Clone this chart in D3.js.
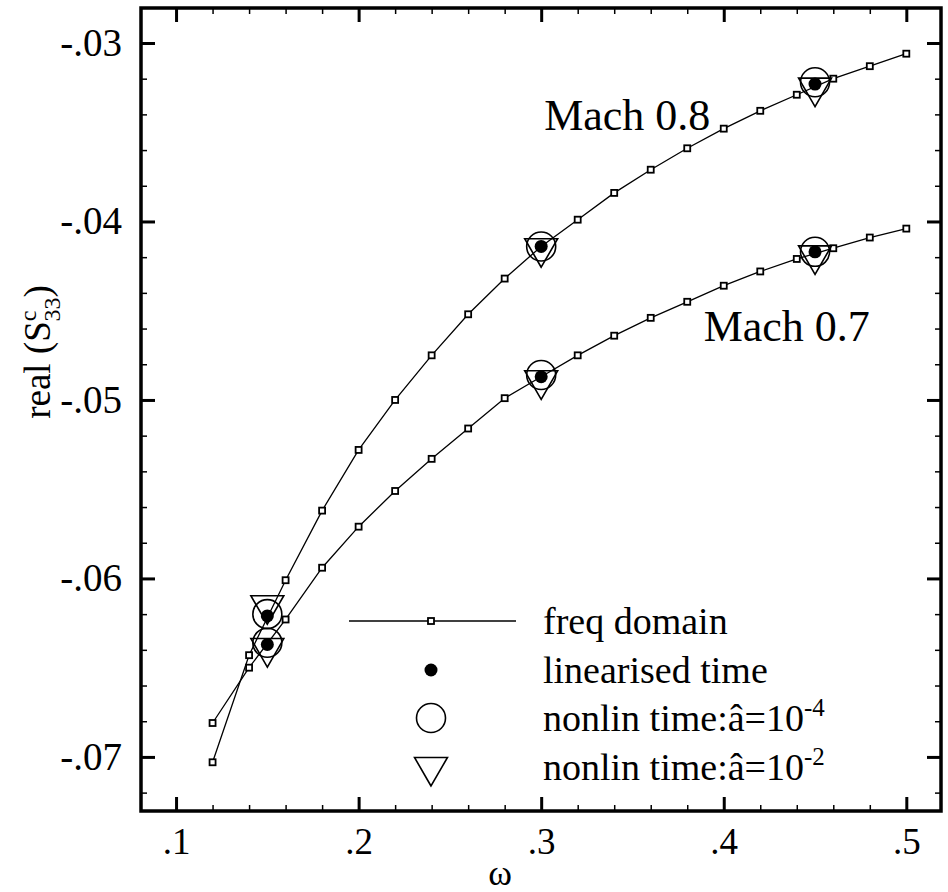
<!DOCTYPE html>
<html>
<head>
<meta charset="utf-8">
<script src="https://cdn.jsdelivr.net/npm/d3@7"></script>
<style>
  body { margin: 0; background: #fff; }
  svg { display: block; }
</style>
</head>
<body>
<div id="chart"></div>
<script>
const FONT = "'Liberation Serif', 'Times New Roman', Times, serif";

// tick values
const xMajor = [0.1, 0.2, 0.3, 0.4, 0.5];
const xMinor = [0.12, 0.14, 0.16, 0.18, 0.22, 0.24, 0.26, 0.28, 0.32, 0.34, 0.36, 0.38, 0.42, 0.44, 0.46, 0.48];
const yMajor = [-0.07, -0.06, -0.05, -0.04, -0.03];
const yMinor = [-0.072, -0.068, -0.066, -0.064, -0.062, -0.058, -0.056, -0.054, -0.052,
                -0.048, -0.046, -0.044, -0.042, -0.038, -0.036, -0.034, -0.032];

// frequency domain sweep (omega)
const freqW = [0.12, 0.14, 0.16, 0.18, 0.20, 0.22, 0.24, 0.26, 0.28, 0.30,
               0.32, 0.34, 0.36, 0.38, 0.40, 0.42, 0.44, 0.46, 0.48, 0.50];
const mach08Freq = [-0.0703, -0.0643, -0.0601, -0.0562, -0.0528, -0.0500, -0.0475, -0.0452, -0.0432, -0.0414,
                    -0.0399, -0.0384, -0.0371, -0.0359, -0.0348, -0.0338, -0.0329, -0.0320, -0.0313, -0.0306];
const mach07Freq = [-0.0681, -0.0650, -0.0623, -0.0594, -0.0571, -0.0551, -0.0533, -0.0516, -0.0499, -0.0487,
                    -0.0475, -0.0464, -0.0454, -0.0445, -0.0436, -0.0428, -0.0421, -0.0415, -0.0409, -0.0404];

// time domain runs
const timeW = [0.15, 0.30, 0.45];
const mach08Lin = [-0.0621, -0.0414, -0.0323];
const mach08Nl4 = [-0.0620, -0.0414, -0.0322];
const mach08Nl2 = [-0.0615, -0.0415, -0.0325];
const mach07Lin = [-0.0637, -0.0487, -0.0417];
const mach07Nl4 = [-0.0636, -0.0486, -0.0417];
const mach07Nl2 = [-0.0639, -0.0489, -0.0419];

const legendLabels = ["freq domain", "linearised time", "nonlin time:\u00e2=10", "nonlin time:\u00e2=10"];
const legendSup = ["", "", "-4", "-2"];

const W = 948, H = 892;
const margin = { top: 8, right: 7, bottom: 81, left: 141 };
const width = W - margin.left - margin.right;
const height = H - margin.top - margin.bottom;

const svg = d3.select("#chart").append("svg")
    .attr("width", W)
    .attr("height", H)
    .style("font-family", FONT);

const g = svg.append("g")
    .attr("transform", `translate(${margin.left},${margin.top})`);

const x = d3.scaleLinear().domain([0.0808, 0.519]).range([0, width]);
const y = d3.scaleLinear().domain([-0.07303, -0.02804]).range([height, 0]);

const fmt = d => String(d).replace("0.", ".");

// axes: inward ticks on all four sides
function styleAxis(sel, w, fs) {
    sel.attr("font-family", FONT).attr("font-size", fs || 36);
    sel.select(".domain").remove();
    sel.selectAll(".tick line").attr("stroke", "#000").attr("stroke-width", w);
    sel.selectAll(".tick text").attr("fill", "#000").style("font-family", FONT);
}

g.append("g").attr("transform", `translate(0,${height})`)
    .call(d3.axisBottom(x).tickValues(xMinor).tickSize(-6).tickFormat(""))
    .call(s => styleAxis(s, 1.5));
g.append("g").call(d3.axisTop(x).tickValues(xMinor).tickSize(-6).tickFormat(""))
    .call(s => styleAxis(s, 1.5));
g.append("g").call(d3.axisLeft(y).tickValues(yMinor).tickSize(-6).tickFormat(""))
    .call(s => styleAxis(s, 1.5));
g.append("g").attr("transform", `translate(${width},0)`)
    .call(d3.axisRight(y).tickValues(yMinor).tickSize(-6).tickFormat(""))
    .call(s => styleAxis(s, 1.5));

g.append("g").attr("transform", `translate(0,${height})`)
    .call(d3.axisBottom(x).tickValues(xMajor).tickSize(-14).tickPadding(17).tickFormat(fmt))
    .call(s => styleAxis(s, 3, 37));

g.append("g")
    .call(d3.axisLeft(y).tickValues(yMajor).tickSize(-14).tickPadding(19).tickFormat(fmt))
    .call(s => styleAxis(s, 3, 39));

g.append("g").call(d3.axisTop(x).tickValues(xMajor).tickSize(-14).tickFormat(""))
    .call(s => styleAxis(s, 3));
g.append("g").attr("transform", `translate(${width},0)`)
    .call(d3.axisRight(y).tickValues(yMajor).tickSize(-14).tickFormat(""))
    .call(s => styleAxis(s, 3));

// frame
g.append("rect")
    .attr("width", width).attr("height", height)
    .attr("fill", "none").attr("stroke", "#000").attr("stroke-width", 3.5);

// frequency domain curves
const line = d3.line().x(d => x(d[0])).y(d => y(d[1]));
[mach08Freq, mach07Freq].forEach(vals => {
    const pts = freqW.map((w, i) => [w, vals[i]]);
    g.append("path").attr("d", line(pts))
        .attr("fill", "none").attr("stroke", "#000").attr("stroke-width", 1.3);
    g.selectAll(null).data(pts).enter().append("rect")
        .attr("x", d => x(d[0]) - 3).attr("y", d => y(d[1]) - 3)
        .attr("width", 6).attr("height", 6)
        .attr("fill", "#fff").attr("stroke", "#000").attr("stroke-width", 1.8);
});

// time domain markers
const tri = d3.symbol(d3.symbolTriangle, 470);
function drawTri(sel, cx, cy) {
    sel.append("path").attr("d", tri())
        .attr("transform", `translate(${cx},${cy}) rotate(180)`)
        .attr("fill", "none").attr("stroke", "#000").attr("stroke-width", 1.6);
}
function drawRing(sel, cx, cy) {
    sel.append("circle").attr("cx", cx).attr("cy", cy).attr("r", 14.5)
        .attr("fill", "none").attr("stroke", "#000").attr("stroke-width", 1.6);
}
function drawDot(sel, cx, cy) {
    sel.append("circle").attr("cx", cx).attr("cy", cy).attr("r", 6.5).attr("fill", "#000");
}

[[mach08Lin, mach08Nl4, mach08Nl2], [mach07Lin, mach07Nl4, mach07Nl2]].forEach(([lin, nl4, nl2]) => {
    timeW.forEach((w, i) => drawTri(g, x(w), y(nl2[i])));
    timeW.forEach((w, i) => drawRing(g, x(w), y(nl4[i])));
    timeW.forEach((w, i) => drawDot(g, x(w), y(lin[i])));
});

// curve labels
g.append("text").attr("x", x(0.3) + 3).attr("y", y(-0.0349)).attr("font-size", 44).text("Mach 0.8");
g.append("text").attr("x", x(0.389)).attr("y", y(-0.0467)).attr("font-size", 44).text("Mach 0.7");

// legend
const legend = svg.append("g").attr("transform", "translate(431,621)");
const rowH = 49;
legend.append("line").attr("x1", -82).attr("x2", 85).attr("y1", 0).attr("y2", 0)
    .attr("stroke", "#000").attr("stroke-width", 1.3);
legend.append("rect").attr("x", -3).attr("y", -3).attr("width", 6).attr("height", 6)
    .attr("fill", "#fff").attr("stroke", "#000").attr("stroke-width", 1.8);
drawDot(legend, 0, rowH);
drawRing(legend, 0, rowH * 2 - 1);
drawTri(legend, 0, rowH * 3 - 1);

legendLabels.forEach((lab, i) => {
    const t = legend.append("text")
        .attr("x", 112).attr("y", i * rowH + 13 - (i > 1 ? 1 : 0))
        .attr("font-size", 38).text(lab);
    if (legendSup[i]) {
        t.append("tspan").attr("dy", -15).attr("font-size", 25).text(legendSup[i]);
    }
});

// axis titles
svg.append("text").attr("x", 500).attr("y", 885)
    .attr("text-anchor", "middle").attr("font-size", 36).text("\u03c9");

const yl = svg.append("text")
    .attr("transform", "translate(50,352) rotate(-90)")
    .attr("text-anchor", "middle").attr("font-size", 37);
yl.append("tspan").text("real (S");
yl.append("tspan").attr("dy", -14).attr("font-size", 24).text("c");
yl.append("tspan").attr("dx", -11).attr("dy", 24).attr("font-size", 24).text("33");
yl.append("tspan").attr("dy", -10).text(")");
</script>
</body>
</html>
